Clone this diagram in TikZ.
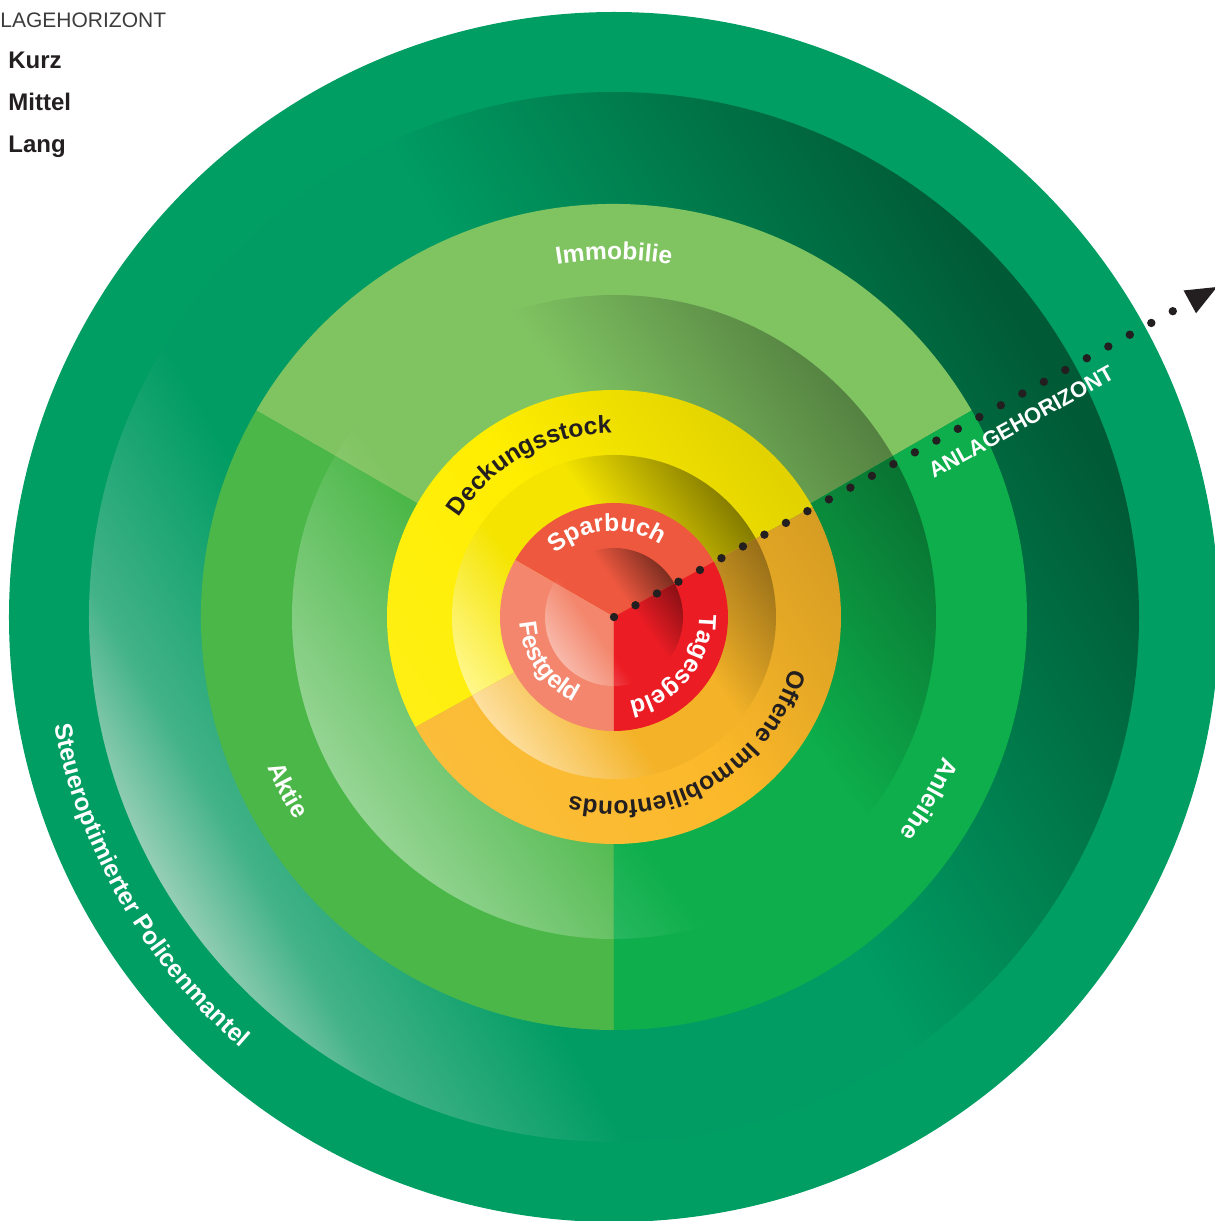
\documentclass[tikz,border=0pt]{standalone}
\usepackage{fontspec}
\setmainfont{Liberation Sans}
\usetikzlibrary{decorations.text,arrows.meta}

\definecolor{outerG}{HTML}{009E63}
\definecolor{ringBase}{HTML}{009C63}
\definecolor{ringDark}{HTML}{005A35}
\definecolor{ringLight}{HTML}{A6D4BF}
\colorlet{ringMid}{ringLight!40!ringBase}
\definecolor{immo}{HTML}{80C462}
\definecolor{aktie}{HTML}{4BB748}
\definecolor{anleihe}{HTML}{0DAE4B}
\definecolor{deck}{HTML}{FFEE00}
\definecolor{offen}{HTML}{FBB829}
\definecolor{spar}{HTML}{EE583F}
\definecolor{fest}{HTML}{F3866C}
\definecolor{tages}{HTML}{EC1C24}
\definecolor{ink}{HTML}{231F20}
\definecolor{legendgray}{HTML}{3C3C3C}

\pgfdeclareverticalshading{darkring}{100bp}{color(0bp)=(ringLight); color(24bp)=(ringLight); color(29bp)=(ringMid); color(38bp)=(ringBase); color(52bp)=(ringBase); color(74bp)=(ringDark); color(100bp)=(ringDark)}

\colorlet{segdark}{black}
\colorlet{segbase}{gray}
\colorlet{seglight}{white}
\pgfdeclareverticalshading[segdark,segbase,seglight]{segshade}{100bp}{color(0bp)=(seglight); color(25bp)=(seglight); color(42bp)=(segbase); color(57bp)=(segbase); color(75bp)=(segdark); color(100bp)=(segdark)}

\newcommand\labfont{\bfseries\fontsize{12.3pt}{14pt}\selectfont}

% color, radius, start, end, text
\newcommand\arclabel[5]{%
  \path[decorate, decoration={text along path, text align=center, text color=#1, text={|\labfont|#5}}]
    (#3:#2) arc[start angle=#3, end angle=#4, radius=#2];}

% shaded disc of radius #1 with base #2, dark #3, light #4
\newcommand\shadedisc[4]{%
  \colorlet{segbase}{#2}\colorlet{segdark}{#3}\colorlet{seglight}{#4}%
  \shade[shading=segshade, shading angle=-55] (0,0) circle[radius=#1];}

% a1 a2 Rout Rin base dark light
\newcommand\seg[7]{%
  \fill[#5] (0,0) -- (#1:#3) arc[start angle=#1, end angle=#2, radius=#3] -- cycle;
  \begin{scope}
    \clip (0,0) -- (#1:#3) arc[start angle=#1, end angle=#2, radius=#3] -- cycle;
    \shadedisc{#4}{#5}{#6}{#7}
  \end{scope}}

\tikzset{
  legend/.style={anchor=base west, inner sep=0pt, text=ink, font=\bfseries\fontsize{12pt}{14pt}\selectfont},
  horizon/.style={inner sep=0pt, text=white, font=\bfseries\fontsize{11pt}{13pt}\selectfont},
  dotline/.style={ink, line width=4.2pt, line cap=round, dash pattern=on 0pt off 12.25pt,
     -{Triangle[length=15.5pt, width=13pt, line width=0pt]}}
}

\begin{document}
\begin{tikzpicture}[x=0.5pt, y=0.5pt]
\useasboundingbox (-614,-604) rectangle (601,617);

% outer ring
\fill[outerG] (0,0) circle[radius=605];
\shade[shading=darkring, shading angle=-60] (0,0) circle[radius=525];

% level 2
\seg{30}{150}{413}{322}{immo}{immo!66!black}{immo!65!white}
\seg{150}{270}{413}{322}{aktie}{aktie!66!black}{aktie!58!white}
\seg{270}{390}{413}{322}{anleihe}{anleihe!66!black}{anleihe!70!white}

% level 3
\begin{scope}
  \clip (0,0) -- (29:227) arc[start angle=29, end angle=209, radius=227] -- cycle;
  \shade[top color=deck!88!black, bottom color=deck!92!white, middle color=deck, shading angle=-55] (0,0) circle[radius=227];
  \shadedisc{162}{deck!96!black}{deck!52!black}{deck!45!white}
\end{scope}
\begin{scope}
  \clip (0,0) -- (209:227) arc[start angle=209, end angle=389, radius=227] -- cycle;
  \shade[top color=offen!85!black, bottom color=offen!92!white, middle color=offen, shading angle=-55] (0,0) circle[radius=227];
  \shadedisc{162}{offen!97!black}{offen!60!black}{offen!45!white}
\end{scope}

% level 4
\seg{29}{150}{114}{69}{spar}{spar!52!black}{spar!60!white}
\seg{150}{270}{114}{69}{fest}{fest!60!black}{fest!58!white}
\seg{270}{389}{114}{69}{tages}{tages!58!black}{tages!60!white}

% labels along arcs
\arclabel{white}{357}{150}{30}{Immobilie}
\arclabel{white}{378}{148}{268}{Aktie}
\arclabel{white}{358}{30}{-90}{Anleihe}
\arclabel{white}{570}{150}{270}{Steueroptimierter Policenmantel}
\arclabel{ink}{184}{209}{29}{Deckungsstock}
\arclabel{ink}{184}{30}{-150}{Offene Immobilienfonds}
\arclabel{white}{86}{175}{15}{Sparbuch}
\arclabel{white}{94}{154}{274}{Festgeld}
\arclabel{white}{85}{41}{-119}{Tagesgeld}

% Anlagehorizont arrow
\coordinate (c) at (0,0);
\coordinate (tip) at (603,330);
\draw[dotline] (c) -- (tip);
\node[horizon, rotate=29] (ah) at (407,195) {ANLAGEHORIZONT};

% legend
\node[anchor=base west, inner sep=0pt, text=legendgray, font=\fontsize{10.5pt}{12pt}\selectfont] (lh) at (-614,589) {LAGEHORIZONT};
\node[legend] (kurz) at (-606,548) {Kurz};
\node[legend] (mittel) at (-606,506) {Mittel};
\node[legend] (lang) at (-606,464) {Lang};
\end{tikzpicture}
\end{document}
